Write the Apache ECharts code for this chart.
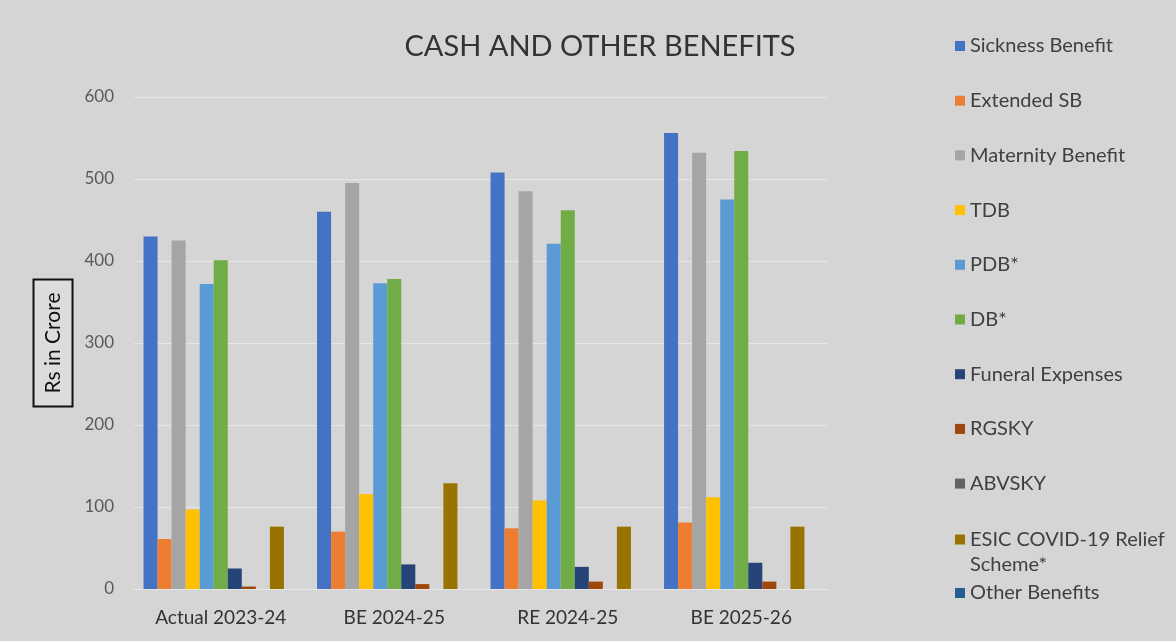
<!DOCTYPE html>
<html>
<head>
<meta charset="utf-8">
<script src="https://cdn.jsdelivr.net/npm/echarts@6/dist/echarts.min.js"></script>
<style>
  html, body { margin: 0; padding: 0; background: #d5d5d5; }
  #chart { width: 1176px; height: 641px; }
</style>
</head>
<body>
<div id="chart"></div>
<script>
// Cash and other benefits, Rs in crore, by budget year
const categories = ['Actual 2023-24', 'BE 2024-25', 'RE 2024-25', 'BE 2025-26'];
const yTicks = [0, 100, 200, 300, 400, 500, 600];

const sicknessBenefit   = [430, 460, 508, 556];
const extendedSB        = [61, 70, 74, 81];
const maternityBenefit  = [425, 495, 485, 532];
const tdb               = [97, 116, 108, 112];
const pdb               = [372, 373, 421, 475];
const db                = [401, 378, 462, 534];
const funeralExpenses   = [25, 30, 27, 32];
const rgsky             = [3, 6, 9, 9];
const abvsky            = [0, 0, 0, 0];
const esicCovidRelief   = [76, 129, 76, 76];
const otherBenefits     = [0, 0, 0, 0];

const seriesNames = [
  'Sickness Benefit', 'Extended SB', 'Maternity Benefit', 'TDB', 'PDB*', 'DB*',
  'Funeral Expenses', 'RGSKY', 'ABVSKY', 'ESIC COVID-19 Relief Scheme*', 'Other Benefits'
];
const seriesData = [
  sicknessBenefit, extendedSB, maternityBenefit, tdb, pdb, db,
  funeralExpenses, rgsky, abvsky, esicCovidRelief, otherBenefits
];
const colors = [
  '#4472C4', '#ED7D31', '#A5A5A5', '#FFC000', '#5B9BD5', '#70AD47',
  '#264478', '#9E480E', '#636363', '#997300', '#255E91'
];

const FONT = 'Lato, "Open Sans", sans-serif';
const legendText = { fontFamily: FONT, fontSize: 20, color: '#404040', lineHeight: 24 };
const legendBase = {
  orient: 'vertical',
  left: 955,
  padding: 0,
  itemWidth: 10,
  itemHeight: 10,
  icon: 'rect',
  textStyle: legendText
};

const chart = echarts.init(document.getElementById('chart'), null, { renderer: 'canvas' });

chart.setOption({
  backgroundColor: '#d5d5d5',
  animation: false,
  color: colors,
  title: {
    text: 'CASH AND OTHER BENEFITS',
    left: 600,
    textAlign: 'center',
    top: 30,
    padding: 0,
    textStyle: { fontFamily: FONT, fontSize: 29, lineHeight: 34, fontWeight: 'normal', color: '#333333' }
  },
  legend: [
    Object.assign({}, legendBase, {
      top: 34,
      itemGap: 30.7,
      data: seriesNames.slice(0, 9)
    }),
    Object.assign({}, legendBase, {
      // blank first line keeps the swatch level with the first text line
      top: 502,
      formatter: () => ' \nESIC COVID-19 Relief\nScheme*',
      textStyle: Object.assign({}, legendText, { lineHeight: 25 }),
      data: [seriesNames[9]]
    }),
    Object.assign({}, legendBase, {
      top: 581,
      data: [seriesNames[10]]
    })
  ],
  grid: { left: 134, right: 348, top: 97, bottom: 52, containLabel: false },
  xAxis: {
    type: 'category',
    data: categories,
    axisTick: { show: false },
    axisLine: { show: true, lineStyle: { color: '#e6e6e6', width: 1 } },
    axisLabel: { fontFamily: FONT, fontSize: 19, lineHeight: 22, color: '#333333', margin: 18 }
  },
  yAxis: {
    type: 'value',
    min: yTicks[0],
    max: yTicks[yTicks.length - 1],
    interval: 100,
    name: 'Rs in Crore',
    nameLocation: 'middle',
    nameRotate: 90,
    nameGap: 59,
    nameTextStyle: {
      fontFamily: FONT, fontSize: 21, lineHeight: 25, color: '#111111',
      backgroundColor: '#dcdcdc',
      borderColor: '#111111', borderWidth: 2,
      padding: [6, 12, 6, 12]
    },
    axisLine: { show: false },
    axisTick: { show: false },
    axisLabel: { fontFamily: FONT, fontSize: 17, color: '#595959', margin: 20 },
    splitLine: { lineStyle: { color: '#e6e6e6', width: 1 } }
  },
  series: seriesNames.map((name, i) => ({
    name: name,
    type: 'bar',
    data: seriesData[i],
    barGap: '0%',
    barCategoryGap: '11%'
  }))
});
</script>
</body>
</html>
